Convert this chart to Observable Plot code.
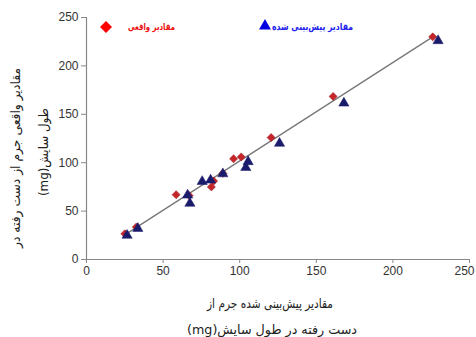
<!DOCTYPE html>
<html>
<head>
<meta charset="utf-8">
<script src="https://cdn.jsdelivr.net/npm/d3@7"></script>
<script src="https://cdn.jsdelivr.net/npm/@observablehq/plot@0.6"></script>
<style>
  html, body { margin: 0; padding: 0; background: #fff; }
  #chart svg { display: block; }
</style>
</head>
<body>
<div id="chart"></div>
<script>
// Actual values (red diamonds)
const actualX = [25, 32.5, 58.5, 67, 81.5, 83, 89, 96, 101, 120.5, 161, 226];
const actualY = [26.5, 33.5, 67, 66, 75, 81, 89, 104, 106, 126, 168.5, 230];
// Predicted values (navy triangles)
const predX = [26.5, 33.5, 66, 67.5, 75.5, 81, 89, 104, 105.5, 126, 168, 229.5];
const predY = [25, 32, 66.5, 58, 80.5, 82, 88.5, 95, 101, 120, 161.5, 226];
// Fitted line end points
const fitX = [26, 226];
const fitY = [26.5, 230];
// Ticks
const xTicks = [0, 50, 100, 150, 200];
const xLastTick = [250];
const yTicks = [0, 50, 100, 150, 200, 250];
// Texts
const legendActual = "مقادیر واقعی";
const legendPred = "مقادیر پیش‌بینی شده";
const yTitle = ["مقادیر واقعی جرم از دست رفته در", "طول سایش(mg)"];
const xTitle = ["مقادیر پیش‌بینی شده جرم از", "دست رفته در طول سایش(mg)"];

const actual = actualX.map((x, i) => ({x, y: actualY[i]}));
const pred = predX.map((x, i) => ({x, y: predY[i]}));
const fit = fitX.map((x, i) => ({x, y: fitY[i]}));

const chart = Plot.plot({
  width: 476,
  height: 337,
  marginLeft: 86,
  marginRight: 7,
  marginTop: 17,
  marginBottom: 78,
  style: {fontFamily: "'Liberation Sans', Arial, sans-serif", fontSize: "12px", color: "#333", background: "#fff"},
  x: {domain: [0, 250]},
  y: {domain: [0, 250]},
  marks: [
    Plot.axisX({ticks: xTicks, tickSize: 4, tickPadding: 3, label: null, stroke: "#888"}),
    Plot.axisX({ticks: xLastTick, tickSize: 4, text: null, label: null, stroke: "#888"}),
    Plot.axisX({ticks: xLastTick, tickSize: 0, tickPadding: 7, dx: -5, label: null}),
    Plot.axisY({ticks: yTicks, tickSize: 5, tickPadding: 3, label: null, stroke: "#888"}),
    Plot.ruleX([0], {stroke: "#888", strokeWidth: 1.2}),
    Plot.ruleY([0], {stroke: "#888", strokeWidth: 1.2}),
    Plot.line(fit, {x: "x", y: "y", stroke: "#777", strokeWidth: 1.3}),
    Plot.dot(actual, {x: "x", y: "y", symbol: "diamond2", r: 3.6, fill: "#c42629", stroke: "#a31a20", strokeWidth: 0.6}),
    Plot.dot(pred, {x: "x", y: "y", symbol: "triangle", r: 3.8, fill: "#1b1b6b", stroke: "#1b1b6b", strokeWidth: 0.5})
  ]
});

document.getElementById("chart").appendChild(chart);

const svg = d3.select(chart);
const arabicFont = "'DejaVu Sans', sans-serif";

function addText(x, y, txt, opts) {
  const t = svg.append("text")
    .attr("transform", `translate(${x},${y})` + (opts.rotate ? ` rotate(${opts.rotate})` : ""))
    .attr("direction", "rtl")
    .attr("text-anchor", opts.anchor || "middle")
    .attr("dy", "0.35em")
    .attr("font-family", arabicFont)
    .attr("font-size", opts.size)
    .attr("font-weight", opts.weight || "normal")
    .attr("fill", opts.fill)
    .text(txt);
  if (opts.length) t.attr("textLength", opts.length).attr("lengthAdjust", "spacingAndGlyphs");
  return t;
}

// Legend
svg.append("path")
  .attr("d", d3.symbol(d3.symbolDiamond2, 92)())
  .attr("transform", "translate(106,27)")
  .attr("fill", "#ff0000");
addText(151.5, 27, legendActual, {size: 9.5, weight: "bold", fill: "#ee1111", length: 47});
svg.append("path")
  .attr("d", d3.symbol(d3.symbolTriangle, 62)())
  .attr("transform", "translate(265,26)")
  .attr("fill", "#0000e0");
addText(312.5, 27, legendPred, {size: 9.5, weight: "bold", fill: "#2222ee", length: 81});

// Y title (rotated)
addText(15, 158, yTitle[0], {size: 13, fill: "#222", rotate: -90, length: 180});
addText(43, 152, yTitle[1], {size: 13, fill: "#222", rotate: -90, length: 88});

// X title
addText(270, 303, xTitle[0], {size: 13, fill: "#222", length: 126});
addText(272, 329, xTitle[1], {size: 13, fill: "#222", length: 170});
</script>
</body>
</html>
